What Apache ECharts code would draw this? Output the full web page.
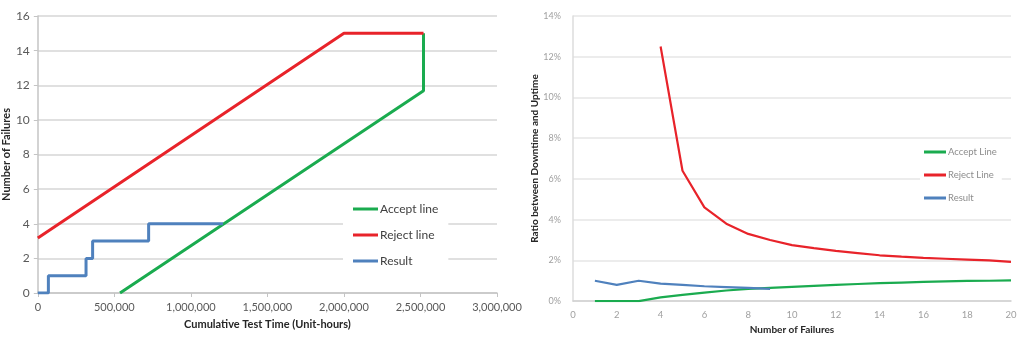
<!DOCTYPE html>
<html>
<head>
<meta charset="utf-8">
<style>
  html, body { margin: 0; padding: 0; background: #fff; }
  #chart { width: 1024px; height: 340px; }
</style>
<script src="https://cdn.jsdelivr.net/npm/echarts@6/dist/echarts.min.js"></script>
</head>
<body>
<div id="chart"></div>
<script>
// ---- Sequential test: failures vs cumulative test time ----
const rejectTime = [0, 2000000, 2520000];
const rejectFailures = [3.17, 15, 15];
const acceptTime = [537000, 2520000, 2520000];
const acceptFailures = [0, 11.68, 15];
const resultTime = [0, 69000, 315000, 358000, 724000, 1210000];
const resultFailures = [0, 1, 2, 3, 4, 4];

// ---- Downtime/uptime ratio vs number of failures (percent) ----
const failureCounts = [1, 2, 3, 4, 5, 6, 7, 8, 9, 10, 11, 12, 13, 14, 15, 16, 17, 18, 19, 20];
const acceptRatio = [0, 0, 0, 0.18, 0.31, 0.42, 0.52, 0.6, 0.65, 0.7, 0.75, 0.8, 0.84, 0.88, 0.91, 0.94, 0.97, 0.99, 1.0, 1.02];
const rejectRatio = [null, null, null, 12.5, 6.4, 4.6, 3.8, 3.3, 3.0, 2.75, 2.6, 2.47, 2.36, 2.25, 2.18, 2.12, 2.08, 2.04, 2.0, 1.93];
const resultRatio = [1.0, 0.8, 1.0, 0.86, 0.8, 0.73, 0.69, 0.65, 0.6];

const GREEN = '#1aab4f';
const RED = '#e8232a';
const BLUE = '#4f81bd';
const FONT = 'Lato, "Open Sans", sans-serif';

const zip = (xs, ys) => xs.map((x, i) => [x, ys[i]]);

const chart = echarts.init(document.getElementById('chart'), null, { renderer: 'canvas' });

chart.setOption({
  animation: false,
  textStyle: { fontFamily: FONT },
  grid: [
    { left: 37, right: 527, top: 16, bottom: 47, containLabel: false },
    { left: 573, right: 13, top: 16, bottom: 37, containLabel: false }
  ],
  legend: [
    {
      orient: 'vertical',
      left: 343, top: 197,
      padding: [6, 10, 6, 10],
      backgroundColor: '#fff',
      itemWidth: 25, itemHeight: 3, itemGap: 14,
      icon: 'rect',
      data: ['Accept line', 'Reject line', { name: 'Result', itemStyle: { color: BLUE } }],
      textStyle: { fontFamily: FONT, fontSize: 12, color: '#404040', padding: [0, 0, 0, -3] },
      selectedMode: false
    },
    {
      orient: 'vertical',
      left: 920, top: 143,
      padding: [4, 5, 4, 4],
      backgroundColor: '#fff',
      itemWidth: 22, itemHeight: 3, itemGap: 13,
      icon: 'rect',
      data: ['Accept Line', 'Reject Line', { name: 'Result', itemStyle: { color: BLUE } }],
      textStyle: { fontFamily: FONT, fontSize: 9.5, color: '#8c8c8c', padding: [0, 0, 0, -3] },
      selectedMode: false
    }
  ],
  xAxis: [
    {
      gridIndex: 0, type: 'value', min: 0, max: 3000000, interval: 500000,
      name: 'Cumulative Test Time (Unit-hours)', nameLocation: 'middle', nameGap: 26,
      nameTextStyle: { fontFamily: FONT, fontSize: 11, fontWeight: 'bold', color: '#262626' },
      axisLine: { show: true, lineStyle: { color: '#c4c4c4', width: 1.5 } },
      axisTick: { show: true, length: 4, lineStyle: { color: '#c4c4c4' } },
      axisLabel: {
        fontFamily: FONT, fontSize: 11, color: '#595959', margin: 9,
        formatter: v => v.toLocaleString('en-US')
      },
      splitLine: { show: false }
    },
    {
      gridIndex: 1, type: 'value', min: 0, max: 20, interval: 2,
      name: 'Number of Failures', nameLocation: 'middle', nameGap: 22,
      nameTextStyle: { fontFamily: FONT, fontSize: 10, fontWeight: 'bold', color: '#262626' },
      axisLine: { show: true, lineStyle: { color: '#d0d0d0', width: 1.5 } },
      axisTick: { show: false },
      axisLabel: { fontFamily: FONT, fontSize: 9.5, color: '#a0a0a0', margin: 9 },
      splitLine: { show: false }
    }
  ],
  yAxis: [
    {
      gridIndex: 0, type: 'value', min: 0, max: 16, interval: 2,
      name: 'Number of Failures', nameLocation: 'middle', nameGap: 23,
      nameTextStyle: { fontFamily: FONT, fontSize: 11, fontWeight: 'bold', color: '#262626' },
      axisLine: { show: true, lineStyle: { color: '#c4c4c4', width: 1.5 } },
      axisTick: { show: true, length: 4, lineStyle: { color: '#c4c4c4' } },
      axisLabel: { fontFamily: FONT, fontSize: 12, color: '#595959', margin: 8 },
      splitLine: { show: true, lineStyle: { color: '#d6d6d6', width: 1.5 } }
    },
    {
      gridIndex: 1, type: 'value', min: 0, max: 14, interval: 2,
      name: 'Ratio between Downtime and Uptime', nameLocation: 'middle', nameGap: 30,
      nameTextStyle: { fontFamily: FONT, fontSize: 10, fontWeight: 'bold', color: '#262626' },
      axisLine: { show: true, lineStyle: { color: '#dcdcdc', width: 1.5 } },
      axisTick: { show: false },
      axisLabel: { fontFamily: FONT, fontSize: 9, color: '#a0a0a0', margin: 12, formatter: '{value}%' },
      splitLine: { show: true, lineStyle: { color: '#e6e6e6', width: 1.5 } }
    }
  ],
  series: [
    {
      name: 'Accept line', type: 'line', xAxisIndex: 0, yAxisIndex: 0,
      data: zip(acceptTime, acceptFailures), showSymbol: false,
      lineStyle: { color: GREEN, width: 3 }, itemStyle: { color: GREEN }, z: 3
    },
    {
      name: 'Reject line', type: 'line', xAxisIndex: 0, yAxisIndex: 0,
      data: zip(rejectTime, rejectFailures), showSymbol: false,
      lineStyle: { color: RED, width: 3 }, itemStyle: { color: RED }, z: 3
    },
    {
      name: 'Result', type: 'line', xAxisIndex: 0, yAxisIndex: 0, step: 'end',
      data: zip(resultTime, resultFailures), showSymbol: false,
      lineStyle: { color: BLUE, width: 3 }, itemStyle: { color: BLUE }, z: 3
    },
    {
      name: 'Accept Line', type: 'line', xAxisIndex: 1, yAxisIndex: 1,
      data: zip(failureCounts, acceptRatio), showSymbol: false,
      lineStyle: { color: GREEN, width: 2.2 }, itemStyle: { color: GREEN }
    },
    {
      name: 'Reject Line', type: 'line', xAxisIndex: 1, yAxisIndex: 1,
      data: zip(failureCounts, rejectRatio), showSymbol: false, connectNulls: false,
      lineStyle: { color: RED, width: 2.2 }, itemStyle: { color: RED }
    },
    {
      name: 'Result', type: 'line', xAxisIndex: 1, yAxisIndex: 1,
      data: zip(failureCounts.slice(0, resultRatio.length), resultRatio), showSymbol: false,
      lineStyle: { color: BLUE, width: 2.2 }, itemStyle: { color: BLUE }
    }
  ]
});
</script>
</body>
</html>
